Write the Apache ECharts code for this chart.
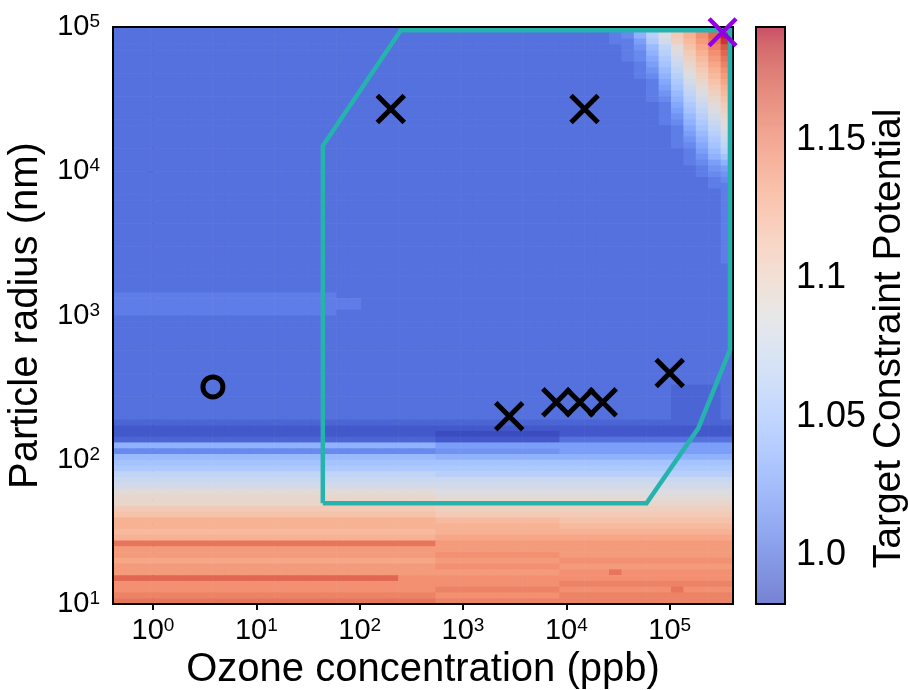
<!DOCTYPE html>
<html>
<head>
<meta charset="utf-8">
<script src="https://cdn.jsdelivr.net/npm/echarts@6/dist/echarts.min.js"></script>
<style>
  html, body { margin: 0; padding: 0; background: #fff; }
  #chart { width: 908px; height: 690px; }
</style>
</head>
<body>
<div id="chart"></div>
<script>
// ---- axis extents ----
const ozoneRange = [0.41, 4.1e5];        // ppb
const radiusRange = [10, 1e5];           // nm
const potentialRange = [0.9823, 1.1909]; // colour scale

// ---- tick positions ----
const ozoneTicks = [1, 10, 100, 1000, 10000, 100000];
const radiusTicks = [10, 100, 1000, 10000, 100000];
const potentialTicks = [1.0, 1.05, 1.1, 1.15];
const potentialMinorTicks = [1.025, 1.075, 1.125, 1.175];

// ---- potential map: 50 log-spaced ozone columns x 100 log-spaced radius rows ----
// each row lists level codes from low to high ozone; rows go from the largest radius down.
// "c:n" means n cells of level c; potential = levelBase + index(c) * levelStep
const gridCols = 50, gridRows = 100;
const levelCodes = '0123456789abcdefghijklmnopqrstuvwxyz';
const levelBase = 0.982, levelStep = 0.006;
const potentialRows = [
  '3:36 3333459dhlorux',
  '3:36 3333459dhloruy',
  '3:36 3333447cgknqtx',
  '3:36 3333346aeimpsv',
  '3:36 33333459dhloru',
  '3:36 33333458cgknqt',
  '3:36 33333347bfjmps',
  '3:36 33333346aeilor',
  '3:36 333333459dhknq',
  '3:36 333333348cgjmp',
  '3:36 333333347bfilo',
  '3:36 333333346aehkn',
  '3:36 3333333459dgjm',
  '3:36 3333333348cfil',
  '3:36 3333333347behk',
  '3:36 3333333346adgj',
  '3:36 33333333459cfi',
  '3:36 33333333348beh',
  '3:36 33333333347adg',
  '3:36 333333333469cf',
  '3:36 333333333458be',
  '3:36 333333333347ad',
  '3:36 3333333333469b',
  '3:36 33333333334579',
  '3:36 33333333333467',
  '3:36 33333333333456',
  '3:36 33333333333345',
  '3:36 33333333333344',
  '3:49 4', '3:49 4', '3:49 4', '3:49 4', '3:49 4', '3:49 4',
  '3:49 4', '3:49 4', '3:49 4', '3:49 4', '3:49 4', '3:49 4',
  '3:49 4', '3:50', '3:50', '3:50', '3:50', '3:50',
  '4:18 3:32', '4:20 3:30', '4:20 3:30', '4:18 3:32',
  '3:50', '3:50', '3:50', '3:50', '3:50', '3:50', '3:50', '3:50',
  '3:50', '3:50', '3:50', '3:50',
  '3:45 2:4 3', '3:45 2:4 3', '3:45 2:4 3', '3:45 2:4 3', '3:45 2:4 3', '3:45 2:4 3',
  '2:50',
  '1:50',
  '1:26 0:10 1:14',
  '2:26 1:10 3:14',
  '9:26 7:10 7:14',
  '5:26 6:10 7:14',
  'a:26 9:10 9:14',
  'b:26 b:10 b:14',
  'c:26 c:10 c:14',
  'e:26 d:10 d:14',
  'f:26 f:10 f:14',
  'g:26 g:10 g:14',
  'i:26 h:10 h:14',
  'j:26 i:10 i:14',
  'j:26 j:10 j:14',
  'l:26 k:10 k:14',
  'm:26 l:10 l:14',
  'o:26 n:10 m:14',
  'o:26 o:10 n:14',
  'n:26 o:10 o:14',
  'o:26 p:10 p:14',
  't:26 q:10 q:14',
  'q:26 q:10 q:14',
  'q:26 r:10 q:14',
  'p:26 q:10 r:14',
  'q:26 r:10 q:14',
  'q:26 q:10 r:4 t r:9',
  'u:23 r:3 r:10 r:14',
  'r:26 r:10 s:14',
  'r:26 s:10 r:9 t r:4',
  's:26 r:10 s:14',
  't:26 s:10 s:14'
];

// ---- operating region outline (ozone ppb, radius nm) ----
const regionOzone  = [44, 44, 250, 383000, 383000, 189000, 59700, 44];
const regionRadius = [50, 15000, 95000, 95000, 578, 165, 50, 50];

// ---- marked conditions ----
const crossOzone  = [200, 15000, 2800, 8000, 13500, 22500, 100000];
const crossRadius = [27000, 27000, 200, 250, 250, 250, 400];
const circleOzone = [3.8];
const circleRadius = [320];
const bestOzone = [325000];
const bestRadius = [92000];

// ---- colour map (coolwarm) ----
const coolwarm = [
  [59,76,192],[68,90,204],[77,104,215],[87,117,225],[98,130,234],[108,142,241],
  [119,154,247],[130,165,251],[141,176,254],[152,185,255],[163,194,255],[174,201,253],
  [184,208,249],[194,213,244],[204,217,238],[213,219,230],[221,221,221],[229,216,209],
  [236,211,197],[241,204,185],[245,196,173],[247,187,160],[247,177,148],[247,166,135],
  [244,154,123],[241,141,111],[236,127,99],[229,112,88],[222,96,77],[213,80,66],
  [203,62,56],[192,40,47],[180,4,38]
];
const rgb = c => `rgb(${c[0]},${c[1]},${c[2]})`;
const mapColors = coolwarm.map(rgb);
// the colour bar is shown at 70% opacity over white
const barColors = coolwarm.map(c => rgb(c.map(v => Math.round(v * 0.7 + 255 * 0.3))));

const FONT = '"Liberation Sans", Arial, Helvetica, sans-serif';
const lg = Math.log10;

// ---- expand the level rows into cells ----
function expandRow(row) {
  const out = [];
  row.split(/\s+/).forEach(tok => {
    const m = tok.match(/^(.):(\d+)$/);
    if (m) { for (let i = 0; i < +m[2]; i++) out.push(m[1]); }
    else { for (const ch of tok) out.push(ch); }
  });
  return out;
}

const xLo = lg(ozoneRange[0]), xHi = lg(ozoneRange[1]);
const yLo = lg(radiusRange[0]), yHi = lg(radiusRange[1]);
const dx = (xHi - xLo) / gridCols, dy = (yHi - yLo) / gridRows;

const cells = [];
potentialRows.forEach((row, j) => {
  const codes = expandRow(row);
  const yTop = yHi - j * dy, yBot = yHi - (j + 1) * dy;
  codes.slice(0, gridCols).forEach((ch, c) => {
    const value = levelBase + levelCodes.indexOf(ch) * levelStep;
    cells.push([xLo + c * dx, xLo + (c + 1) * dx, yBot, yTop, value]);
  });
});

const pts = (xs, ys) => xs.map((x, i) => [lg(x), lg(ys[i])]);

const powLabel = (extra) => Object.assign({
  color: '#000',
  fontFamily: FONT,
  formatter: v => `{b|10}{s|${Math.round(v)}}`,
  rich: {
    b: { fontSize: 29, fontFamily: FONT, color: '#000' },
    s: { fontSize: 19, fontFamily: FONT, color: '#000', verticalAlign: 'top' }
  }
}, extra);

const blackLine = { show: true, lineStyle: { color: '#000', width: 2 } };
const crossPath = 'path://M0,0L10,10M10,0L0,10';

const chart = echarts.init(document.getElementById('chart'), null, { renderer: 'canvas' });
chart.setOption({
  animation: false,
  backgroundColor: '#fff',
  textStyle: { fontFamily: FONT, color: '#000' },
  grid: [
    { left: 113, top: 27, width: 620, height: 577, show: true, borderColor: '#000',
      borderWidth: 2, backgroundColor: 'transparent', z: 5, outerBoundsMode: 'none', containLabel: false },
    { left: 756, top: 27, width: 29, height: 577, show: true, borderColor: '#000',
      borderWidth: 2, backgroundColor: 'transparent', z: 10, outerBoundsMode: 'none', containLabel: false }
  ],
  xAxis: [
    {
      gridIndex: 0, type: 'value', min: xLo, max: xHi,
      name: 'Ozone concentration (ppb)', nameLocation: 'middle', nameGap: 42,
      nameTextStyle: { fontSize: 40, fontFamily: FONT, color: '#000' },
      axisLine: blackLine,
      axisTick: { show: true, length: 6, lineStyle: { color: '#000', width: 2 },
                  customValues: ozoneTicks.map(lg) },
      axisLabel: powLabel({ margin: 12, customValues: ozoneTicks.map(lg) }),
      splitLine: { show: false }
    },
    { gridIndex: 1, type: 'value', min: 0, max: 1, show: false }
  ],
  yAxis: [
    {
      gridIndex: 0, type: 'value', min: yLo, max: yHi,
      name: 'Particle radius (nm)', nameLocation: 'middle', nameGap: 64,
      nameTextStyle: { fontSize: 40, fontFamily: FONT, color: '#000' },
      axisLine: blackLine,
      axisTick: { show: true, length: 7, lineStyle: { color: '#000', width: 2 },
                  customValues: radiusTicks.map(lg) },
      axisLabel: powLabel({ margin: 13, customValues: radiusTicks.map(lg) }),
      splitLine: { show: false }
    },
    {
      gridIndex: 1, type: 'value', position: 'right',
      min: potentialRange[0], max: potentialRange[1],
      name: 'Target Constraint Potential', nameLocation: 'middle', nameGap: 80, nameRotate: 90,
      nameTextStyle: { fontSize: 39, fontFamily: FONT, color: '#000', padding: [0, 46, 0, 0] },
      axisLine: blackLine,
      axisTick: { show: true, length: 7, lineStyle: { color: '#000', width: 2 },
                  customValues: potentialTicks.concat(potentialMinorTicks) },
      axisLabel: {
        margin: 11, fontSize: 36, fontFamily: FONT, color: '#000',
        customValues: potentialTicks,
        formatter: v => (Math.abs(v - 1) < 1e-9 ? '1.0' : String(+(+v).toFixed(2)))
      },
      splitLine: { show: false }
    }
  ],
  visualMap: [
    {
      type: 'continuous', show: false, seriesIndex: 0, dimension: 4,
      min: potentialRange[0], max: potentialRange[1],
      inRange: { color: mapColors }
    },
    {
      type: 'continuous', show: true, seriesIndex: [], calculable: false, hoverLink: false,
      min: potentialRange[0], max: potentialRange[1],
      left: 756, top: 27, itemWidth: 29, itemHeight: 577, padding: 0,
      text: null,
      inRange: { color: barColors }
    }
  ],
  series: [
    {
      type: 'custom', name: 'potential', xAxisIndex: 0, yAxisIndex: 0,
      data: cells, dimensions: ['x0', 'x1', 'y0', 'y1', 'potential'],
      encode: { x: [0, 1], y: [2, 3] },
      clip: true, silent: true, z: 2,
      renderItem: (params, api) => {
        const p0 = api.coord([api.value(0), api.value(3)]);
        const p1 = api.coord([api.value(1), api.value(2)]);
        return {
          type: 'rect',
          shape: { x: p0[0], y: p0[1], width: p1[0] - p0[0] + 0.6, height: p1[1] - p0[1] + 0.6 },
          style: { fill: api.visual('color') }
        };
      }
    },
    {
      type: 'line', name: 'region', xAxisIndex: 0, yAxisIndex: 0,
      data: pts(regionOzone, regionRadius),
      symbol: 'none', silent: true, z: 6,
      lineStyle: { color: '#26b3ad', width: 4.5, join: 'miter' }
    },
    {
      type: 'scatter', name: 'tested', xAxisIndex: 0, yAxisIndex: 0,
      data: pts(crossOzone, crossRadius),
      symbol: crossPath, symbolSize: 27, silent: true, z: 8,
      itemStyle: { color: 'transparent', borderColor: '#000', borderWidth: 5, opacity: 1 }
    },
    {
      type: 'scatter', name: 'reference', xAxisIndex: 0, yAxisIndex: 0,
      data: pts(circleOzone, circleRadius),
      symbol: 'circle', symbolSize: 20, silent: true, z: 8,
      itemStyle: { color: 'transparent', borderColor: '#000', borderWidth: 5, opacity: 1 }
    },
    {
      type: 'scatter', name: 'optimum', xAxisIndex: 0, yAxisIndex: 0,
      data: pts(bestOzone, bestRadius),
      symbol: crossPath, symbolSize: 27, silent: true, z: 12,
      itemStyle: { color: 'transparent', borderColor: '#9400e6', borderWidth: 4.5, opacity: 1 }
    }
  ]
});
</script>
</body>
</html>
